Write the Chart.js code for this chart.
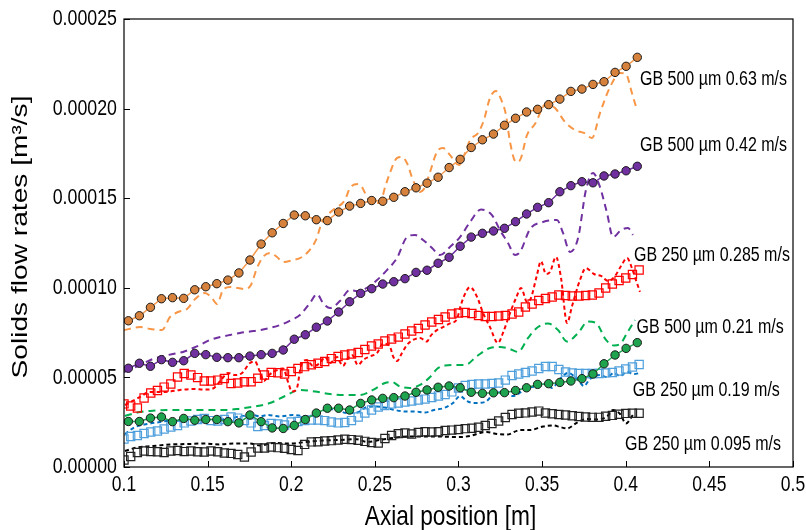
<!DOCTYPE html>
<html lang="en">
<head>
  <meta charset="UTF-8">
  <title>Solids flow rates</title>
  <script src="https://cdn.jsdelivr.net/npm/chart.js"></script>
  <style>
    body { margin: 0; background: #fff; }
    #wrap { width: 806px; height: 530px; }
  </style>
</head>
<body>
  <div id="wrap"><canvas id="grafica" width="806" height="530"></canvas></div>

  <script>
    // values in 1e-5 m3/s
    const UNIT = 1e-5;

    const xTicks = [0.1, 0.15, 0.2, 0.25, 0.3, 0.35, 0.4, 0.45, 0.5];
    const yTicks = [0, 0.00005, 0.0001, 0.00015, 0.0002, 0.00025];
    const xTitle = 'Axial position [m]';
    const yTitle = 'Solids flow rates [m³/s]';

    // axial positions of the circle series (GB 500)
    const xCircle = [0.1026, 0.1092, 0.1158, 0.1224, 0.1290, 0.1357, 0.1423, 0.1489, 0.1555, 0.1621,
      0.1687, 0.1753, 0.1820, 0.1886, 0.1952, 0.2018, 0.2084, 0.2150, 0.2216, 0.2283,
      0.2349, 0.2415, 0.2481, 0.2547, 0.2613, 0.2680, 0.2746, 0.2812, 0.2878, 0.2944,
      0.3010, 0.3076, 0.3143, 0.3209, 0.3275, 0.3341, 0.3407, 0.3473, 0.3539, 0.3606,
      0.3672, 0.3738, 0.3804, 0.3870, 0.3936, 0.4002, 0.4069];

    // axial positions of the square series (GB 250)
    const xSquare = [0.100, 0.104, 0.108, 0.112, 0.116, 0.120, 0.124, 0.128, 0.132, 0.136,
      0.140, 0.144, 0.148, 0.152, 0.156, 0.160, 0.164, 0.168, 0.172, 0.176,
      0.180, 0.184, 0.188, 0.192, 0.196, 0.200, 0.204, 0.208, 0.212, 0.216,
      0.220, 0.224, 0.228, 0.232, 0.236, 0.240, 0.244, 0.248, 0.252, 0.256,
      0.260, 0.264, 0.268, 0.272, 0.276, 0.280, 0.284, 0.288, 0.292, 0.296,
      0.300, 0.304, 0.308, 0.312, 0.316, 0.320, 0.324, 0.328, 0.332, 0.336,
      0.340, 0.344, 0.348, 0.352, 0.356, 0.360, 0.364, 0.368, 0.372, 0.376,
      0.380, 0.384, 0.388, 0.392, 0.396, 0.400, 0.404, 0.408];

    const orange063 = [8.16, 8.44, 8.91, 9.39, 9.45, 9.41, 9.89, 10.06, 10.23, 10.43,
      10.83, 11.55, 12.44, 13.07, 13.59, 14.06, 14.02, 13.80, 13.75, 14.23,
      14.56, 14.71, 14.87, 14.83, 15.05, 15.36, 15.58, 15.84, 16.17, 16.71,
      17.17, 17.83, 18.26, 18.58, 19.07, 19.46, 19.81, 19.96, 20.22, 20.53,
      20.96, 21.09, 21.35, 21.50, 22.02, 22.36, 22.86];

    const purple042 = [5.51, 5.79, 5.62, 5.99, 5.84, 5.93, 6.34, 6.27, 6.12, 6.10,
      6.10, 6.19, 6.27, 6.34, 6.53, 7.13, 7.38, 7.80, 8.15, 8.65,
      9.22, 9.69, 9.95, 10.21, 10.34, 10.51, 10.86, 10.98, 11.37, 11.70,
      12.32, 12.83, 13.04, 13.17, 13.32, 13.69, 14.12, 14.49, 14.75, 15.36,
      15.70, 15.92, 15.86, 16.24, 16.35, 16.53, 16.78];

    const green021 = [2.54, 2.54, 2.73, 2.79, 2.53, 2.71, 2.61, 2.65, 2.65, 2.53,
      2.46, 2.90, 2.53, 2.18, 2.15, 2.32, 2.65, 3.01, 3.28, 3.28,
      3.18, 3.55, 3.74, 3.83, 3.87, 3.96, 4.17, 4.30, 4.45, 4.52,
      4.42, 4.17, 4.11, 4.14, 4.15, 4.27, 4.42, 4.61, 4.65, 4.72,
      4.80, 4.93, 5.19, 5.76, 6.25, 6.62, 6.94];

    const red0285 = [3.52, 3.40, 3.29, 3.85, 4.13, 4.27, 4.46, 4.63, 5.02, 5.22,
      5.13, 4.99, 4.80, 4.80, 4.85, 4.94, 4.66, 4.69, 4.76, 4.76,
      4.95, 5.13, 5.28, 5.26, 5.19, 5.33, 5.50, 5.60, 5.71, 5.79,
      5.89, 6.05, 6.17, 6.25, 6.31, 6.39, 6.56, 6.75, 6.86, 7.03,
      7.14, 7.25, 7.42, 7.59, 7.73, 7.92, 8.09, 8.23, 8.37, 8.54,
      8.59, 8.62, 8.57, 8.45, 8.40, 8.40, 8.43, 8.45, 8.54, 8.65,
      8.93, 9.10, 9.29, 9.40, 9.49, 9.60, 9.57, 9.54, 9.54, 9.57,
      9.60, 9.71, 9.99, 10.21, 10.41, 10.55, 10.74, 10.99];

    const blue019 = [1.56, 1.70, 1.76, 1.87, 1.95, 2.01, 2.12, 2.23, 2.32, 2.46,
      2.57, 2.65, 2.71, 2.59, 2.57, 2.65, 2.79, 2.73, 2.59, 2.46,
      2.26, 2.32, 2.43, 2.40, 2.34, 2.51, 2.54, 2.59, 2.62, 2.62,
      2.59, 2.51, 2.46, 2.48, 2.59, 2.79, 3.01, 3.18, 3.35, 3.43,
      3.52, 3.57, 3.63, 3.68, 3.74, 3.79, 3.88, 3.96, 4.05, 4.19,
      4.41, 4.55, 4.60, 4.63, 4.63, 4.66, 4.69, 4.85, 5.11, 5.19,
      5.27, 5.36, 5.50, 5.61, 5.61, 5.44, 5.30, 5.25, 5.22, 5.22,
      5.22, 5.22, 5.25, 5.27, 5.36, 5.47, 5.58, 5.72];

    const black0095 = [0.39, 0.59, 0.81, 0.89, 0.86, 0.85, 0.81, 0.89, 0.92, 0.86,
      0.89, 0.85, 0.84, 0.89, 0.85, 0.78, 0.76, 0.70, 0.56, 0.84,
      1.06, 1.06, 1.12, 1.08, 1.04, 0.98, 0.92, 1.26, 1.40, 1.41,
      1.45, 1.47, 1.51, 1.55, 1.53, 1.49, 1.43, 1.37, 1.34, 1.59,
      1.76, 1.86, 1.90, 1.84, 1.93, 1.97, 1.95, 1.97, 2.04, 2.06,
      2.09, 2.14, 2.16, 2.22, 2.32, 2.43, 2.57, 2.76, 2.93, 3.00,
      3.02, 3.07, 3.12, 3.01, 2.97, 2.93, 2.90, 2.86, 2.82, 2.79,
      2.77, 2.77, 2.83, 2.88, 2.94, 2.99, 3.00, 3.00];

    // dashed curves: [axial position, flow rate]
    const orangeDash = [[0.1000, 7.64], [0.1096, 7.81], [0.1161, 7.70], [0.1227, 7.64], [0.1275, 8.37],
      [0.1323, 8.65], [0.1377, 8.82], [0.1425, 9.37], [0.1484, 9.71], [0.1526, 9.43],
      [0.1556, 9.10], [0.1592, 9.88], [0.1634, 10.04], [0.1682, 9.99], [0.1723, 9.93],
      [0.1759, 10.16], [0.1795, 11.10], [0.1831, 11.72], [0.1873, 11.94], [0.1915, 11.72],
      [0.1951, 11.44], [0.2010, 11.55], [0.2052, 11.66], [0.2094, 11.94], [0.2148, 12.67],
      [0.2184, 13.67], [0.2250, 14.34], [0.2321, 14.90], [0.2351, 15.57], [0.2399, 15.79],
      [0.2423, 15.62], [0.2453, 15.07], [0.2489, 14.73], [0.2531, 14.73], [0.2561, 15.62],
      [0.2590, 16.41], [0.2632, 17.24], [0.2662, 17.30], [0.2692, 16.96], [0.2728, 16.01],
      [0.2770, 15.35], [0.2800, 15.62], [0.2830, 16.46], [0.2871, 17.58], [0.2907, 17.80],
      [0.2949, 17.41], [0.3003, 16.85], [0.3039, 17.52], [0.3069, 18.25], [0.3117, 18.64],
      [0.3152, 19.36], [0.3188, 20.59], [0.3224, 20.98], [0.3254, 20.53], [0.3284, 19.64],
      [0.3308, 18.14], [0.3344, 17.02], [0.3368, 17.13], [0.3410, 18.53], [0.3457, 19.14],
      [0.3523, 20.26], [0.3577, 20.03], [0.3637, 19.25], [0.3697, 18.80], [0.3750, 18.64],
      [0.3798, 18.36], [0.3846, 19.75], [0.3906, 21.20], [0.3966, 21.99], [0.4001, 21.93],
      [0.4037, 20.87], [0.4067, 19.92]];

    const purpleDash = [[0.1000, 5.30], [0.1096, 5.69], [0.1173, 6.03], [0.1293, 6.31], [0.1353, 6.42],
      [0.1413, 6.64], [0.1454, 6.81], [0.1514, 7.09], [0.1574, 7.25], [0.1634, 7.37],
      [0.1694, 7.48], [0.1753, 7.56], [0.1813, 7.64], [0.1873, 7.76], [0.1933, 7.92],
      [0.1993, 8.17], [0.2052, 8.48], [0.2112, 9.15], [0.2154, 9.65], [0.2190, 9.15],
      [0.2232, 8.87], [0.2291, 9.26], [0.2351, 9.88], [0.2393, 9.82], [0.2453, 9.99],
      [0.2513, 10.43], [0.2572, 10.99], [0.2632, 11.66], [0.2692, 12.83], [0.2740, 12.95],
      [0.2788, 12.67], [0.2842, 12.22], [0.2889, 11.83], [0.2949, 12.28], [0.3009, 12.83],
      [0.3069, 13.67], [0.3135, 14.37], [0.3200, 14.06], [0.3248, 13.22], [0.3296, 12.50],
      [0.3338, 11.83], [0.3368, 12.00], [0.3428, 13.28], [0.3505, 13.67], [0.3589, 13.78],
      [0.3625, 13.06], [0.3667, 12.00], [0.3715, 12.78], [0.3762, 15.46], [0.3804, 16.41],
      [0.3846, 15.62], [0.3888, 14.17], [0.3924, 12.83], [0.3972, 13.22], [0.4013, 13.34],
      [0.4043, 12.95]];

    const redDash = [[0.1006, 3.46], [0.1096, 3.91], [0.1155, 4.19], [0.1245, 4.19], [0.1335, 4.30],
      [0.1413, 4.35], [0.1484, 4.32], [0.1532, 4.38], [0.1580, 4.85], [0.1622, 5.25],
      [0.1664, 5.13], [0.1706, 5.25], [0.1753, 5.80], [0.1783, 5.89], [0.1813, 5.30],
      [0.1837, 4.80], [0.1867, 5.13], [0.1915, 5.41], [0.1951, 5.50], [0.1981, 4.74],
      [0.2004, 4.21], [0.2034, 4.41], [0.2058, 5.64], [0.2094, 5.97], [0.2130, 5.64],
      [0.2172, 5.80], [0.2202, 6.14], [0.2232, 5.80], [0.2274, 6.14], [0.2291, 5.86],
      [0.2309, 5.64], [0.2339, 6.08], [0.2363, 6.25], [0.2399, 5.69], [0.2429, 5.97],
      [0.2471, 6.17], [0.2513, 6.36], [0.2549, 6.89], [0.2590, 6.72], [0.2608, 6.19],
      [0.2632, 5.91], [0.2662, 6.36], [0.2692, 6.81], [0.2728, 7.09], [0.2770, 7.20],
      [0.2812, 7.00], [0.2830, 7.28], [0.2871, 7.64], [0.2907, 7.81], [0.2949, 8.01],
      [0.2991, 8.26], [0.3009, 8.87], [0.3033, 9.54], [0.3069, 10.04], [0.3111, 9.49],
      [0.3147, 8.59], [0.3188, 7.81], [0.3236, 6.92], [0.3266, 7.48], [0.3308, 8.59],
      [0.3344, 9.43], [0.3374, 9.99], [0.3410, 9.21], [0.3433, 9.43], [0.3469, 10.71],
      [0.3493, 11.49], [0.3523, 10.77], [0.3547, 10.88], [0.3583, 11.72], [0.3613, 10.55],
      [0.3649, 8.04], [0.3679, 8.98], [0.3726, 10.43], [0.3762, 11.10], [0.3810, 10.77],
      [0.3852, 10.66], [0.3894, 10.38], [0.3936, 10.66], [0.3972, 11.22], [0.4008, 11.66],
      [0.4037, 11.10], [0.4061, 10.43], [0.4085, 9.77]];

    const greenDash = [[0.1006, 2.85], [0.1096, 3.07], [0.1185, 3.15], [0.1275, 3.18], [0.1395, 3.18],
      [0.1514, 3.18], [0.1604, 3.18], [0.1694, 3.26], [0.1783, 3.38], [0.1873, 3.57],
      [0.1963, 3.96], [0.2052, 4.30], [0.2142, 4.21], [0.2232, 4.07], [0.2321, 4.02],
      [0.2411, 4.02], [0.2489, 4.30], [0.2561, 4.69], [0.2602, 4.74], [0.2650, 4.49],
      [0.2710, 4.41], [0.2770, 4.58], [0.2830, 5.02], [0.2871, 5.47], [0.2919, 5.66],
      [0.2979, 5.69], [0.3039, 5.69], [0.3111, 6.19], [0.3188, 6.64], [0.3248, 6.70],
      [0.3308, 6.58], [0.3356, 6.42], [0.3416, 7.20], [0.3475, 7.81], [0.3535, 8.01],
      [0.3595, 7.64], [0.3649, 7.00], [0.3715, 7.48], [0.3774, 8.12], [0.3822, 8.04],
      [0.3882, 7.09], [0.3930, 6.78], [0.3966, 6.86], [0.4008, 7.48], [0.4055, 8.20]];

    const blueDash = [[0.1006, 1.84], [0.1066, 2.23], [0.1138, 2.40], [0.1215, 2.51], [0.1305, 2.62],
      [0.1395, 2.62], [0.1532, 2.62], [0.1616, 2.68], [0.1694, 2.82], [0.1771, 2.90],
      [0.1813, 2.82], [0.1855, 2.90], [0.1933, 2.82], [0.2010, 2.90], [0.2082, 2.85],
      [0.2154, 2.90], [0.2214, 3.26], [0.2274, 3.18], [0.2333, 3.01], [0.2393, 3.04],
      [0.2453, 3.35], [0.2513, 3.38], [0.2572, 3.29], [0.2620, 3.18], [0.2680, 3.10],
      [0.2740, 3.10], [0.2800, 3.04], [0.2854, 3.18], [0.2913, 3.29], [0.2967, 3.57],
      [0.3009, 3.96], [0.3051, 3.68], [0.3093, 3.57], [0.3159, 3.63], [0.3206, 4.02],
      [0.3266, 4.19], [0.3326, 3.96], [0.3410, 4.41], [0.3487, 4.52], [0.3529, 4.66],
      [0.3559, 4.41], [0.3607, 4.91], [0.3655, 5.25], [0.3715, 4.85], [0.3750, 4.52],
      [0.3786, 4.91], [0.3846, 5.13], [0.3888, 5.02], [0.3930, 5.25], [0.3966, 5.08],
      [0.4008, 5.30], [0.4049, 5.19], [0.4085, 5.25]];

    const blackDash = [[0.1006, 0.89], [0.1078, 1.09], [0.1173, 1.17], [0.1275, 1.26], [0.1377, 1.28],
      [0.1472, 1.31], [0.1574, 1.26], [0.1652, 1.31], [0.1753, 1.31], [0.1813, 1.20],
      [0.1891, 1.34], [0.1993, 1.31], [0.2094, 1.40], [0.2190, 1.48], [0.2291, 1.51],
      [0.2393, 1.55], [0.2453, 1.40], [0.2531, 1.51], [0.2590, 1.60], [0.2692, 1.70],
      [0.2788, 1.70], [0.2889, 1.70], [0.2991, 1.67], [0.3069, 1.73], [0.3129, 1.90],
      [0.3170, 1.95], [0.3230, 1.84], [0.3290, 1.81], [0.3368, 2.06], [0.3428, 2.06],
      [0.3505, 2.26], [0.3565, 2.32], [0.3607, 2.23], [0.3649, 2.15], [0.3709, 2.48],
      [0.3768, 2.68], [0.3828, 2.65], [0.3888, 2.82], [0.3924, 3.18], [0.3966, 2.96],
      [0.4001, 2.43], [0.4043, 2.90]];

    const labelText = ["GB 500 µm 0.63 m/s", "GB 500 µm 0.42 m/s", "GB 250 µm 0.285 m/s",
      "GB 500 µm 0.21 m/s", "GB 250 µm 0.19 m/s", "GB 250 µm 0.095 m/s"];
    const labelX = [0.4085, 0.4085, 0.4049, 0.4065, 0.4042, 0.3996];
    const labelY = [21.65, 17.93, 11.83, 7.76, 4.26, 1.23];

    const FONT = "'Liberation Sans', Arial, sans-serif";
    const STRETCH = 1.25; // the original text is drawn taller than wide

    function puntos(xs, ys) {
      return xs.map((x, i) => ({ x: x, y: ys[i] * UNIT }));
    }
    function pares(arr) {
      return arr.map(p => ({ x: p[0], y: p[1] * UNIT }));
    }

    function circulos(ys, fill, line) {
      return {
        data: puntos(xCircle, ys),
        borderColor: line, borderWidth: 1.5,
        pointStyle: 'circle', pointRadius: 4.2,
        pointBackgroundColor: fill, pointBorderColor: '#1a1a1a', pointBorderWidth: 1,
        order: 0
      };
    }
    function cuadros(ys, color) {
      return {
        data: puntos(xSquare, ys),
        showLine: false,
        pointStyle: 'rect', pointRadius: 5.8,
        pointBackgroundColor: 'rgba(255,255,255,0)', pointBorderColor: color, pointBorderWidth: 1.2,
        order: 0
      };
    }
    function discontinua(arr, color, dash) {
      return {
        data: pares(arr),
        borderColor: color, borderWidth: 2, borderDash: dash,
        pointRadius: 0, cubicInterpolationMode: 'monotone',
        order: 1
      };
    }

    function texto(ctx, txt, px, py, size, align, vertical) {
      ctx.save();
      ctx.translate(px, py);
      ctx.scale(1, STRETCH);
      if (vertical) ctx.rotate(-Math.PI / 2);
      ctx.font = size + 'px ' + FONT;
      ctx.textAlign = align;
      ctx.textBaseline = 'middle';
      ctx.fillText(txt, 0, 0);
      ctx.restore();
    }

    const marco = {
      id: 'marco',
      afterDraw(chart) {
        const { ctx, chartArea: a, scales: { x, y } } = chart;
        ctx.save();
        ctx.strokeStyle = '#000';
        ctx.lineWidth = 1.2;
        ctx.strokeRect(a.left, a.top, a.right - a.left, a.bottom - a.top);
        ctx.lineWidth = 1;
        ctx.beginPath();
        x.ticks.forEach(t => {
          const px = Math.round(x.getPixelForValue(t.value)) + 0.5;
          ctx.moveTo(px, a.bottom); ctx.lineTo(px, a.bottom - 6);
        });
        y.ticks.forEach(t => {
          const py = Math.round(y.getPixelForValue(t.value)) + 0.5;
          ctx.moveTo(a.left, py); ctx.lineTo(a.left + 6, py);
        });
        ctx.stroke();
        ctx.fillStyle = '#000';

        // tick labels
        x.ticks.forEach(t => texto(ctx, String(t.value), x.getPixelForValue(t.value), a.bottom + 18, 17.5, 'center'));
        y.ticks.forEach(t => texto(ctx, t.value.toFixed(5), a.left - 7, y.getPixelForValue(t.value), 17.8, 'right'));

        // axis titles
        texto(ctx, xTitle, (a.left + a.right) / 2 - 8, 517, 22.7, 'center');
        texto(ctx, yTitle, 21, (a.top + a.bottom) / 2 - 6, 22.5, 'center', true);

        // series labels
        labelText.forEach((txt, i) => {
          texto(ctx, txt, x.getPixelForValue(labelX[i]), y.getPixelForValue(labelY[i] * UNIT), 16, 'left');
        });
        ctx.restore();
      }
    };

    new Chart(document.getElementById('grafica'), {
      type: 'line',
      data: {
        datasets: [
          discontinua(orangeDash, '#F79646', [7, 5]),
          discontinua(purpleDash, '#7030A0', [7, 5]),
          discontinua(redDash, '#FF0000', [4, 3]),
          discontinua(greenDash, '#00B050', [7, 5]),
          discontinua(blueDash, '#0070C0', [4, 3]),
          discontinua(blackDash, '#000000', [4, 3]),
          circulos(orange063, '#D6823C', '#F59A50'),
          circulos(purple042, '#7030A0', '#7030A0'),
          cuadros(red0285, '#FF0000'),
          circulos(green021, '#1EA34F', '#1EA34F'),
          cuadros(blue019, '#4E9FDC'),
          cuadros(black0095, '#222222')
        ]
      },
      options: {
        responsive: false,
        animation: false,
        devicePixelRatio: 1,
        layout: { padding: { top: 19, right: 13, left: 0, bottom: 0 } },
        plugins: { legend: { display: false }, tooltip: { enabled: false } },
        scales: {
          x: {
            type: 'linear', min: 0.1, max: 0.5,
            afterBuildTicks: s => { s.ticks = xTicks.map(v => ({ value: v })); },
            afterFit: s => { s.height = 63; },
            grid: { display: false, drawTicks: false },
            border: { display: false },
            ticks: { display: false }
          },
          y: {
            type: 'linear', min: 0, max: 0.00025,
            afterBuildTicks: s => { s.ticks = yTicks.map(v => ({ value: v })); },
            afterFit: s => { s.width = 124; },
            grid: { display: false, drawTicks: false },
            border: { display: false },
            ticks: { display: false }
          }
        }
      },
      plugins: [marco]
    });
  </script>
</body>
</html>
